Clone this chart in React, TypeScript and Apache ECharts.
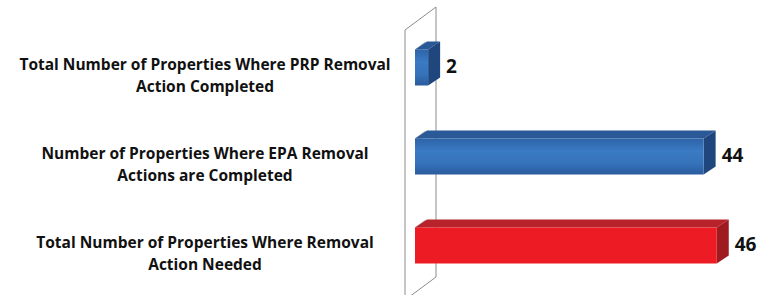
import React, { useEffect, useRef } from "react";
import * as echarts from "echarts";

const categories = [
  "Total Number of Properties Where PRP Removal\nAction Completed",
  "Number of Properties Where EPA Removal\nActions are Completed",
  "Total Number of Properties Where Removal\nAction Needed",
];
const values = [2, 44, 46];
const barKinds = ["blue", "blue", "red"];

const palettes: Record<string, { front: any; top: string; side: string }> = {
  blue: {
    front: new echarts.graphic.LinearGradient(0, 0, 0, 1, [
      { offset: 0, color: "#2d63a8" },
      { offset: 0.35, color: "#3a7bc3" },
      { offset: 0.7, color: "#3572ba" },
      { offset: 1, color: "#2a5b9d" },
    ]),
    top: "#2b5997",
    side: "#1f477d",
  },
  red: {
    front: "#ed1c24",
    top: "#b8222a",
    side: "#9e1b21",
  },
};

export default function App() {
  const ref = useRef<HTMLDivElement>(null);
  useEffect(() => {
    if (!ref.current) return;
    const chart = echarts.init(ref.current, null, { renderer: "svg" });
    const DX = 12;
    const DY = -8;
    const BAR_H = 36;
    chart.setOption({
      animation: false,
      grid: { left: 415, right: 22, top: 23, bottom: 5, containLabel: false },
      xAxis: { type: "value", min: 0, max: 50, show: false },
      yAxis: {
        type: "category",
        inverse: true,
        data: categories,
        axisLine: { show: false },
        axisTick: { show: false },
        splitLine: { show: false },
        axisLabel: {
          align: "center",
          margin: 210,
          color: "#111",
          formatter: (v: string) =>
            "{s| }\n" +
            v
              .split("\n")
              .map((l) => `{t|${l}}`)
              .join("\n"),
          rich: {
            s: { fontSize: 1, lineHeight: 14 },
            t: {
              fontFamily: "Open Sans",
              fontWeight: "bold",
              fontSize: 15.5,
              lineHeight: 22,
              color: "#111",
            },
          },
        },
      },
      series: [
        {
          type: "custom",
          data: values.map((v, i) => [v, i]),
          renderItem: (params: any, api: any) => {
            const v = api.value(0);
            const idx = api.value(1);
            const start = api.coord([0, idx]);
            const end = api.coord([v, idx]);
            const cs = params.coordSys;
            const yc = start[1];
            const y0 = yc - BAR_H / 2;
            const y1 = yc + BAR_H / 2;
            const x0 = start[0];
            const x1 = end[0];
            const pal = palettes[barKinds[params.dataIndex]];
            const children: any[] = [];
            if (params.dataIndex === 0) {
              const gTop = cs.y;
              const gBot = cs.y + cs.height;
              children.push({
                type: "polygon",
                z2: 0,
                shape: {
                  points: [
                    [x0 - 10, gTop + 7],
                    [x0 + 21, gTop - 16],
                    [x0 + 21, gBot - 13],
                    [x0 - 10, gBot + 10],
                  ],
                },
                style: { fill: "none", stroke: "#8c8c8c", lineWidth: 1 },
              });
            }
            children.push({
              type: "polygon",
              z2: 1,
              shape: {
                points: [
                  [x0, y0],
                  [x0 + DX - 2, y0 + DY],
                  [x0 + DX - 2, y0 + DY + 6],
                  [x0, y0 + 8],
                ],
              },
              style: { fill: "#c8c8c8" },
            });
            children.push({
              type: "polygon",
              z2: 2,
              shape: {
                points: [
                  [x0, y0],
                  [x0 + DX, y0 + DY],
                  [x1 + DX, y0 + DY],
                  [x1, y0],
                ],
              },
              style: { fill: pal.top },
            });
            children.push({
              type: "polygon",
              z2: 2,
              shape: {
                points: [
                  [x1, y0],
                  [x1 + DX, y0 + DY],
                  [x1 + DX, y1 + DY],
                  [x1, y1],
                ],
              },
              style: { fill: pal.side },
            });
            children.push({
              type: "rect",
              z2: 3,
              shape: { x: x0, y: y0, width: x1 - x0, height: y1 - y0 },
              style: { fill: pal.front },
            });
            children.push({
              type: "text",
              z2: 4,
              style: {
                text: String(v),
                x: x1 + DX + 6,
                y: yc - 2,
                align: "left",
                verticalAlign: "middle",
                fontFamily: "Open Sans",
                fontWeight: "bold",
                fontSize: 19,
                fill: "#111",
              },
            });
            return { type: "group", children };
          },
        },
      ],
    });
    return () => chart.dispose();
  }, []);
  return (
    <div
      ref={ref}
      style={{ position: "absolute", left: 0, top: 0, width: 765, height: 295 }}
    />
  );
}
